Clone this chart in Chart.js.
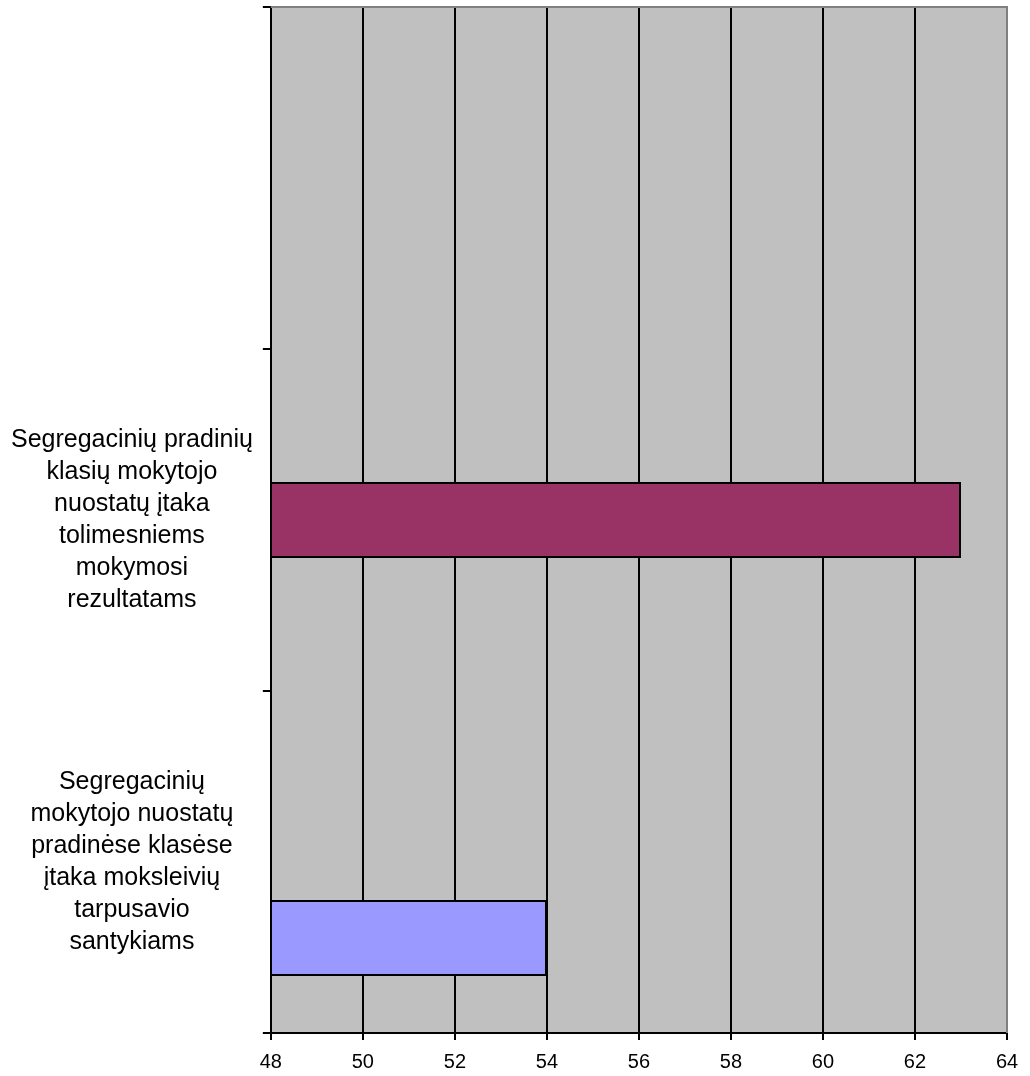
<!DOCTYPE html>
<html>
<head>
<meta charset="utf-8">
<script src="https://cdn.jsdelivr.net/npm/chart.js@4/dist/chart.umd.min.js"></script>
<style>
  html, body { margin: 0; padding: 0; background: #ffffff; }
  #wrap { width: 1030px; height: 1076px; }
</style>
</head>
<body>
<div id="wrap"><canvas id="c" width="1030" height="1076"></canvas></div>
<script>
// Category labels (top slot has no label)
const categories = [
  '',
  ['Segregacinių pradinių', 'klasių mokytojo', 'nuostatų įtaka', 'tolimesniems', 'mokymosi', 'rezultatams'],
  ['Segregacinių', 'mokytojo nuostatų', 'pradinėse klasėse', 'įtaka moksleivių', 'tarpusavio', 'santykiams']
];

// Series values, one per category slot
const seriesTop    = [null, null, null];
const seriesMiddle = [null, 63, null];
const seriesBottom = [null, null, 54];

// Value axis
const xMin = 48;
const xMax = 64;
const xStep = 2;

const FONT = '"Liberation Sans", Arial, Helvetica, sans-serif';

// Grey plot background plus the light frame on the top and right edges
const plotFrame = {
  id: 'plotFrame',
  beforeDraw(chart) {
    const { ctx, chartArea: a } = chart;
    ctx.save();
    ctx.fillStyle = '#C0C0C0';
    ctx.fillRect(a.left, a.top, a.right - a.left, a.bottom - a.top);
    ctx.restore();
  },
  afterDatasetsDraw(chart) {
    const { ctx, chartArea: a } = chart;
    ctx.save();
    ctx.strokeStyle = '#808080';
    ctx.lineWidth = 2;
    ctx.beginPath();
    ctx.moveTo(a.left, a.top);
    ctx.lineTo(a.right, a.top);
    ctx.lineTo(a.right, a.bottom);
    ctx.stroke();
    ctx.restore();
  }
};

new Chart(document.getElementById('c'), {
  type: 'bar',
  data: {
    labels: categories,
    datasets: [
      { label: 'Serija 3', data: seriesTop,    backgroundColor: '#FFFFCC', borderColor: '#000000', borderWidth: 2, borderSkipped: 'start', base: xMin },
      { label: 'Serija 2', data: seriesMiddle, backgroundColor: '#993366', borderColor: '#000000', borderWidth: 2, borderSkipped: 'start', base: xMin },
      { label: 'Serija 1', data: seriesBottom, backgroundColor: '#9999FF', borderColor: '#000000', borderWidth: 2, borderSkipped: 'start', base: xMin }
    ]
  },
  options: {
    indexAxis: 'y',
    responsive: false,
    animation: false,
    categoryPercentage: 2 / 3,
    barPercentage: 1,
    layout: { padding: { top: 7, right: 23, bottom: -8, left: 1 } },
    plugins: {
      legend: { display: false },
      tooltip: { enabled: false }
    },
    scales: {
      x: {
        type: 'linear',
        min: xMin,
        max: xMax,
        ticks: {
          stepSize: xStep,
          color: '#000000',
          padding: 10,
          maxRotation: 0,
          font: { family: FONT, size: 20 }
        },
        grid: {
          color: (c) => (c.tick && c.tick.value === xMax) ? 'rgba(0,0,0,0)' : '#000000',
          lineWidth: 2,
          tickColor: '#000000',
          tickLength: 7,
          drawTicks: true
        },
        border: { display: true, color: '#000000', width: 2 }
      },
      y: {
        type: 'category',
        offset: true,
        // labels sit mid-band, so they never reach past the plot edges
        afterFit(scale) {
          scale.paddingTop = 0;
          scale.paddingBottom = 0;
        },
        ticks: {
          color: '#000000',
          padding: 10,
          crossAlign: 'center',
          font: { family: FONT, size: 25, lineHeight: 1.28 }
        },
        grid: {
          offset: true,
          drawOnChartArea: false,
          drawTicks: true,
          tickLength: 8,
          color: '#000000',
          lineWidth: 2
        },
        border: { display: true, color: '#000000', width: 2 }
      }
    }
  },
  plugins: [plotFrame]
});
</script>
</body>
</html>
